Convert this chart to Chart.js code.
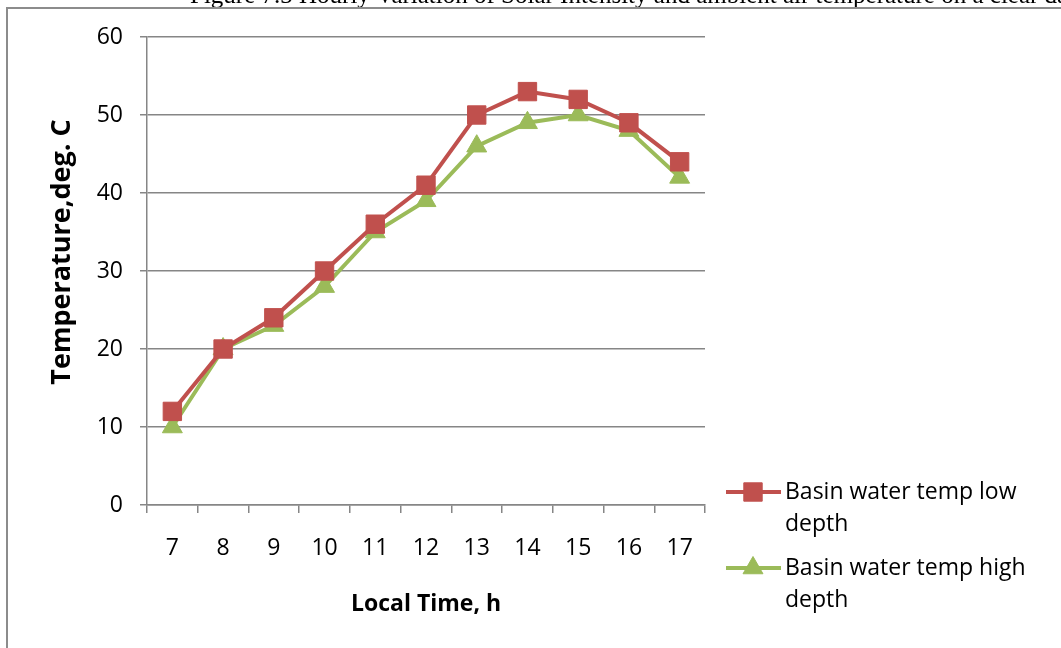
<!DOCTYPE html>
<html>
<head>
<meta charset="utf-8">
<script src="https://cdn.jsdelivr.net/npm/chart.js@4/dist/chart.umd.min.js"></script>
<style>
  html, body { margin: 0; padding: 0; background: #ffffff; }
  #wrap { width: 1061px; height: 648px; position: relative; }
</style>
</head>
<body>
<div id="wrap"><canvas id="c" width="1061" height="648"></canvas></div>
<script>
// Hourly readings, local time
const hours = ['7', '8', '9', '10', '11', '12', '13', '14', '15', '16', '17'];
const lowDepthTemp = [12, 20, 24, 30, 36, 41, 50, 53, 52, 49, 44];
const highDepthTemp = [10, 20, 23, 28, 35, 39, 46, 49, 50, 48, 42];
const seriesNames = [
  ['Basin water temp low', 'depth'],
  ['Basin water temp high', 'depth']
];
const yTickValues = [0, 10, 20, 30, 40, 50, 60];
const yAxisTitle = 'Temperature,deg. C';
const xAxisTitle = 'Local Time, h';
const captionText = 'Figure 7.3 Hourly Variation of Solar Intensity and ambient air temperature on a clear day';

const RED = '#C0504D';
const GREEN = '#9BBB59';
const GRID = '#868686';
const FONT = '"Open Sans", "Noto Sans", sans-serif';

// Outer frame, the clipped caption above it, the vertical axis title and the two-line legend
const decorations = {
  id: 'decorations',
  beforeDraw(chart) {
    const ctx = chart.ctx;
    ctx.save();
    ctx.fillStyle = '#ffffff';
    ctx.fillRect(0, 0, chart.width, chart.height);
    ctx.fillStyle = '#000000';
    ctx.font = '25px "Liberation Serif", "DejaVu Serif", serif';
    ctx.textBaseline = 'alphabetic';
    ctx.fillText(captionText, 190, 3);
    ctx.strokeStyle = '#8c8c8c';
    ctx.lineWidth = 2;
    ctx.strokeRect(7, 8, 1200, 800);
    ctx.restore();
  },
  afterDraw(chart) {
    const ctx = chart.ctx;
    ctx.save();
    // vertical axis title
    ctx.translate(62, 252);
    ctx.rotate(-Math.PI / 2);
    ctx.fillStyle = '#000000';
    ctx.font = 'bold 27px ' + FONT;
    ctx.textAlign = 'center';
    ctx.textBaseline = 'middle';
    ctx.fillText(yAxisTitle, 0, 0);
    ctx.restore();

    const rows = [492, 568];
    ctx.save();
    chart.data.datasets.forEach((ds, i) => {
      const y = rows[i];
      ctx.strokeStyle = ds.borderColor;
      ctx.lineWidth = ds.borderWidth;
      ctx.beginPath();
      ctx.moveTo(726, y);
      ctx.lineTo(781, y);
      ctx.stroke();
      ctx.fillStyle = ds.pointBackgroundColor;
      ctx.strokeStyle = ds.pointBorderColor;
      ctx.lineWidth = 1;
      Chart.helpers.drawPoint(ctx, {
        pointStyle: ds.pointStyle,
        rotation: 0,
        radius: ds.pointRadius,
        borderWidth: 1
      }, 753, y);
      ctx.fillStyle = '#000000';
      ctx.font = '23px ' + FONT;
      ctx.textBaseline = 'middle';
      ctx.textAlign = 'left';
      seriesNames[i].forEach((line, k) => {
        ctx.fillText(line, 785, y + k * 32);
      });
    });
    ctx.restore();
  }
};

new Chart(document.getElementById('c'), {
  type: 'line',
  data: {
    labels: hours,
    datasets: [
      {
        label: seriesNames[0].join(' '),
        data: lowDepthTemp,
        borderColor: RED,
        backgroundColor: RED,
        borderWidth: 4,
        pointStyle: 'rect',
        pointRadius: 13,
        pointBorderWidth: 1,
        pointBorderColor: RED,
        pointBackgroundColor: RED,
        tension: 0
      },
      {
        label: seriesNames[1].join(' '),
        data: highDepthTemp,
        borderColor: GREEN,
        backgroundColor: GREEN,
        borderWidth: 4,
        pointStyle: 'triangle',
        pointRadius: 11.5,
        pointBorderWidth: 1,
        pointBorderColor: GREEN,
        pointBackgroundColor: GREEN,
        tension: 0
      }
    ]
  },
  options: {
    responsive: false,
    animation: false,
    events: [],
    layout: { padding: { top: 37, right: 356, left: 0, bottom: 0 } },
    plugins: {
      legend: { display: false },
      tooltip: { enabled: false }
    },
    scales: {
      x: {
        type: 'category',
        offset: true,
        grid: {
          offset: true,
          drawOnChartArea: false,
          drawTicks: true,
          tickLength: 8,
          color: GRID,
          lineWidth: 1.5
        },
        border: { color: GRID, width: 1.5 },
        ticks: {
          color: '#000000',
          font: { family: FONT, size: 23 },
          padding: 22,
          maxRotation: 0,
          autoSkip: false
        },
        title: {
          display: true,
          text: xAxisTitle,
          color: '#000000',
          font: { family: FONT, size: 23, weight: 'bold' },
          padding: { top: 0, bottom: 30 }
        },
        afterFit(scale) { scale.height = 143; }
      },
      y: {
        min: 0,
        max: 60,
        afterBuildTicks(scale) {
          scale.ticks = yTickValues.map(v => ({ value: v }));
        },
        grid: {
          color: GRID,
          lineWidth: 1.5,
          tickLength: 7
        },
        border: { color: GRID, width: 1.5 },
        ticks: {
          color: '#000000',
          font: { family: FONT, size: 23 },
          padding: 17
        },
        afterFit(scale) { scale.width = 147; }
      }
    }
  },
  plugins: [decorations]
});
</script>
</body>
</html>
